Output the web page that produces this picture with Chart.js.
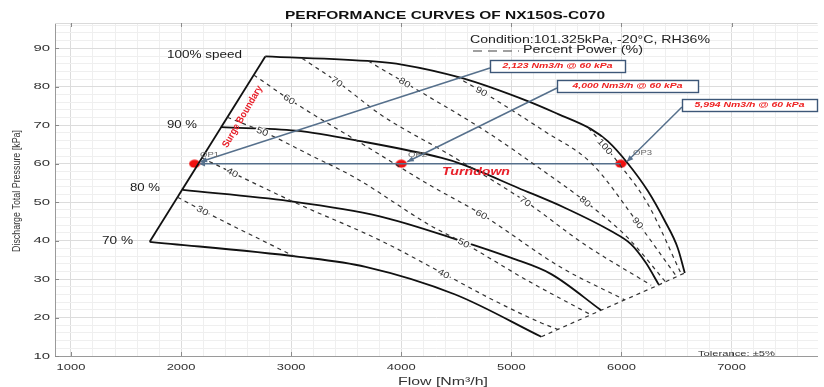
<!DOCTYPE html>
<html>
<head>
<meta charset="utf-8">
<script src="https://cdn.jsdelivr.net/npm/chart.js@4.4.1/dist/chart.umd.min.js"></script>
<style>
  html, body { margin: 0; padding: 0; background: #ffffff; }
  #wrap { width: 824px; height: 387px; }
</style>
</head>
<body>
<div id="wrap"><canvas id="perf" width="824" height="387"></canvas></div>
<script>
// ---- Compressor map data: [flow Nm3/h, discharge pressure kPa] ----
const speed100 = [[2765,87.9],[3751,86.6],[4005,85.8],[4548,82.3],[5154,76.2],[5425,72.9],[5724,69.0],[5878,65.8],[6060,60.0],[6240,52.9],[6394,45.1],[6511,38.1],[6575,31.6]];
const speed90  = [[2364,69.5],[3043,68.6],[3643,65.8],[4367,61.5],[4548,59.9],[5063,53.7],[5489,48.5],[5905,42.5],[6086,39.1],[6220,34.3],[6340,28.5]];
const speed80  = [[2016,53.2],[2982,50.3],[3796,46.4],[4548,39.9],[5000,35.5],[5362,31.3],[5815,21.9]];
const speed70  = [[1715,39.7],[3072,35.8],[3676,33.2],[4490,26.0],[5272,15.0]];
const surgeLine = [[1715,39.7],[2765,87.9]];
const chokeLine = [[5272,15.0],[5815,21.9],[6340,28.5],[6575,31.6]];

// percent power contours
const power30  = [[1968,51.3],[2197,47.8],[3030,35.9]];
const power40  = [[2190,61.5],[3043,49.8],[3800,40.2],[4385,31.4],[4852,24.3],[5272,18.6],[5425,16.9]];
const power50  = [[2420,72.1],[2771,68.0],[3163,62.4],[3585,56.3],[4249,44.2],[4566,39.4],[5154,29.5],[5724,20.7]];
const power60  = [[2660,83.1],[3012,76.2],[3706,64.1],[4249,54.6],[4731,46.8],[5453,33.0],[6029,24.6]];
const power70  = [[3100,87.4],[3434,81.0],[3827,72.5],[4430,62.5],[5123,50.3],[5666,39.0],[6270,28.4]];
const power80  = [[3700,86.7],[4038,81.0],[4792,68.0],[5272,58.5],[5666,50.3],[6059,40.7],[6400,29.3]];
const power90  = [[4500,82.6],[4731,78.8],[5303,68.4],[5724,60.2],[6149,44.6],[6500,30.7]];
const power100 = [[5700,69.3],[5851,64.5],[6000,59.2],[6240,49.5],[6545,31.2]];
const powerLevels = [30,40,50,60,70,80,90,100];
const powerLabelFlows = [[2195],[2466,4385],[2738,4566],[2982,4729],[3416,5127],[4032,5670],[4729,6149],[5851]];

// operating points along the turndown line
const opNames = ['OP1','OP2','OP3'];
const opFlows = [2123, 4000, 5994];
const opPressure = 60;

// axis ticks
const xTicks = [1000,2000,3000,4000,5000,6000,7000];
const yTicks = [10,20,30,40,50,60,70,80,90];
const xMinorStep = 200;
const yMinorStep = 2;

const X_MIN = 855, X_MAX = 7785, Y_MIN = 10, Y_MAX = 96.6;

const pts = arr => arr.map(([x, y]) => ({x, y}));
const powerSets = [power30, power40, power50, power60, power70, power80, power90, power100];
const SANS = '"Liberation Sans", Arial, sans-serif';

// red elliptical marker for operating points
const dot = document.createElement('canvas');
dot.width = 12; dot.height = 9;
(function () {
  const g = dot.getContext('2d');
  g.fillStyle = '#f01010';
  g.beginPath();
  g.ellipse(6, 4.5, 5.6, 4, 0, 0, Math.PI * 2);
  g.fill();
})();

const dashedStyle = {showLine: true, pointRadius: 0, borderColor: '#333333', borderWidth: 1.2, borderDash: [4, 4], cubicInterpolationMode: 'monotone', fill: false};
const solidStyle = {showLine: true, pointRadius: 0, borderColor: '#111111', borderWidth: 1.8, cubicInterpolationMode: 'monotone', fill: false};
const blueLine = '#56708c';

const datasets = [];
powerSets.forEach((s, i) => datasets.push(Object.assign({label: powerLevels[i] + '%', data: pts(s)}, dashedStyle)));
datasets.push(Object.assign({label: 'choke', data: pts(chokeLine)}, dashedStyle, {cubicInterpolationMode: 'default', tension: 0}));
[speed100, speed90, speed80, speed70].forEach((s, i) => datasets.push(Object.assign({label: ['100%','90%','80%','70%'][i] + ' speed', data: pts(s)}, solidStyle)));
datasets.push(Object.assign({label: 'surge', data: pts(surgeLine)}, solidStyle, {cubicInterpolationMode: 'default', tension: 0}));
datasets.push({label: 'turndown', data: [{x: opFlows[2], y: opPressure}, {x: opFlows[0] + 70, y: opPressure}], showLine: true, pointRadius: 0, borderColor: blueLine, borderWidth: 1.6, tension: 0});
datasets.push({label: 'points', data: opFlows.map(f => ({x: f, y: opPressure})), showLine: false, pointStyle: dot, pointRadius: 5});

function interpPx(chart, arr, flow) {
  const xs = chart.scales.x, ys = chart.scales.y;
  for (let i = 0; i < arr.length - 1; i++) {
    const [x0, y0] = arr[i], [x1, y1] = arr[i + 1];
    if (flow >= x0 && flow <= x1) {
      const t = (flow - x0) / (x1 - x0);
      const px0 = xs.getPixelForValue(x0), py0 = ys.getPixelForValue(y0);
      const px1 = xs.getPixelForValue(x1), py1 = ys.getPixelForValue(y1);
      return {x: px0 + t * (px1 - px0), y: py0 + t * (py1 - py0), a: Math.atan2(py1 - py0, px1 - px0)};
    }
  }
  return null;
}

// draw text stretched horizontally to a given width; align: 'left' | 'center' | 'right'
function wideText(ctx, text, x, y, width, align) {
  const w = ctx.measureText(text).width;
  const k = width / w;
  ctx.save();
  ctx.textAlign = 'left';
  ctx.textBaseline = 'middle';
  const x0 = align === 'center' ? x - width / 2 : align === 'right' ? x - width : x;
  ctx.translate(x0, y);
  ctx.scale(k, 1);
  ctx.fillText(text, 0, 0);
  ctx.restore();
}

function arrow(ctx, tx, ty, fx, fy, color) {
  const a = Math.atan2(ty - fy, tx - fx);
  ctx.save();
  ctx.fillStyle = color;
  ctx.beginPath();
  ctx.moveTo(tx, ty);
  ctx.lineTo(tx - 7 * Math.cos(a - 0.4), ty - 7 * Math.sin(a - 0.4));
  ctx.lineTo(tx - 7 * Math.cos(a + 0.4), ty - 7 * Math.sin(a + 0.4));
  ctx.closePath();
  ctx.fill();
  ctx.restore();
}

const decorations = {
  id: 'decorations',
  beforeDatasetsDraw(chart) {
    const {ctx, chartArea: a} = chart;
    const xs = chart.scales.x, ys = chart.scales.y;
    ctx.save();
    // axis lines and inward tick marks
    ctx.strokeStyle = '#9a9a9a';
    ctx.lineWidth = 1;
    ctx.beginPath();
    ctx.moveTo(a.left + 0.5, a.top); ctx.lineTo(a.left + 0.5, a.bottom + 0.5); ctx.lineTo(a.right, a.bottom + 0.5);
    ctx.stroke();
    ctx.strokeStyle = '#dadada';
    ctx.beginPath();
    ctx.moveTo(a.left, a.top + 0.5); ctx.lineTo(a.right - 0.5, a.top + 0.5);
    ctx.stroke();
    ctx.strokeStyle = '#8a8a8a';
    ctx.beginPath();
    xTicks.forEach(v => {
      const px = Math.round(xs.getPixelForValue(v)) + 0.5;
      ctx.moveTo(px, a.bottom); ctx.lineTo(px, a.bottom - 4);
      ctx.moveTo(px, a.top); ctx.lineTo(px, a.top + 4);
    });
    yTicks.forEach(v => {
      const py = Math.round(ys.getPixelForValue(v)) + 0.5;
      ctx.moveTo(a.left, py); ctx.lineTo(a.left + 4, py);
    });
    ctx.stroke();

    // tick labels placed by the scales
    ctx.fillStyle = '#333';
    ctx.font = '9px ' + SANS;
    xTicks.forEach(v => wideText(ctx, String(v), xs.getPixelForValue(v), 367.5, 7.2 * String(v).length, 'center'));
    ctx.font = '9.5px ' + SANS;
    yTicks.forEach(v => wideText(ctx, String(v), a.left - 5, ys.getPixelForValue(v), 8.3 * String(v).length, 'right'));

    // axis titles
    ctx.font = '11px ' + SANS;
    wideText(ctx, 'Flow [Nm³/h]', 443, 381.5, 90, 'center');
    ctx.save();
    ctx.translate(17.5, 191);
    ctx.rotate(-Math.PI / 2);
    ctx.scale(1, 1.15);
    ctx.font = '9px ' + SANS;
    wideText(ctx, 'Discharge Total Pressure [kPa]', 0, 0, 122, 'center');
    ctx.restore();
    ctx.restore();
  },
  afterDatasetsDraw(chart) {
    const {ctx} = chart;
    const xs = chart.scales.x, ys = chart.scales.y;
    ctx.save();

    // percent-power contour labels
    ctx.font = '9px ' + SANS;
    ctx.textAlign = 'center';
    ctx.textBaseline = 'middle';
    powerSets.forEach((s, i) => {
      powerLabelFlows[i].forEach(f => {
        const p = interpPx(chart, s, f);
        if (!p) return;
        ctx.save();
        ctx.translate(p.x, p.y);
        ctx.rotate(p.a);
        ctx.fillStyle = 'rgba(255,255,255,0.95)';
        const w = ctx.measureText(String(powerLevels[i])).width;
        ctx.fillRect(-w / 2 - 2, -4, w + 4, 8);
        ctx.fillStyle = '#333';
        ctx.scale(1.2, 1);
        ctx.fillText(String(powerLevels[i]), 0, 0.5);
        ctx.restore();
      });
    });

    // speed labels
    ctx.fillStyle = '#1a1a1a';
    ctx.font = '10px ' + SANS;
    wideText(ctx, '100% speed', 167, 55, 75, 'left');
    wideText(ctx, '90 %', 167, 125, 30, 'left');
    wideText(ctx, '80 %', 130, 188, 30, 'left');
    wideText(ctx, '70 %', 102, 241.7, 31, 'left');

    // surge boundary label
    ctx.save();
    ctx.translate(242.5, 116.7);
    ctx.rotate(-Math.atan2(60, 35));
    ctx.fillStyle = '#e8202a';
    ctx.font = 'bold 10px ' + SANS;
    wideText(ctx, 'Surge Boundary', 0, 0, 70, 'center');
    ctx.restore();

    // turndown label
    ctx.fillStyle = '#e8202a';
    ctx.font = 'italic bold 11px ' + SANS;
    wideText(ctx, 'Turndown', 442, 172, 68, 'left');

    // operating point callouts
    const boxes = [{x: 490, y: 60, w: 135, h: 12}, {x: 557, y: 80, w: 141, h: 12}, {x: 682, y: 99, w: 135, h: 12}];
    const opLabelPos = [[200, 155.5], [408, 155], [633, 153.5]];
    opFlows.forEach((f, i) => {
      const px = xs.getPixelForValue(f), py = ys.getPixelForValue(opPressure);
      const b = boxes[i];
      const sx = b.x, sy = b.y + 8;
      const tx = px + 6, ty = py - 2;
      ctx.strokeStyle = blueLine;
      ctx.lineWidth = 1.5;
      ctx.beginPath(); ctx.moveTo(sx, sy); ctx.lineTo(tx, ty); ctx.stroke();
      arrow(ctx, tx, ty, sx, sy, blueLine);
      ctx.fillStyle = '#ffffff';
      ctx.fillRect(b.x, b.y, b.w, b.h);
      ctx.strokeStyle = '#3d5778';
      ctx.lineWidth = 1.4;
      ctx.strokeRect(b.x + 0.5, b.y + 0.5, b.w, b.h);
      ctx.fillStyle = '#ee2222';
      ctx.font = 'italic bold 7px ' + SANS;
      wideText(ctx, f.toLocaleString('en-US') + ' Nm3/h @ ' + opPressure + ' kPa', b.x + b.w / 2, b.y + b.h / 2 + 0.5, 110, 'center');
      ctx.fillStyle = '#666';
      ctx.font = '7px ' + SANS;
      wideText(ctx, opNames[i], opLabelPos[i][0], opLabelPos[i][1], 19, 'left');
    });
    // arrow head at the end of the turndown line
    arrow(ctx, xs.getPixelForValue(opFlows[0]) + 4, ys.getPixelForValue(opPressure), xs.getPixelForValue(opFlows[2]), ys.getPixelForValue(opPressure), blueLine);

    // title, condition, legend, tolerance
    ctx.fillStyle = '#111';
    ctx.font = 'bold 11px ' + SANS;
    wideText(ctx, 'PERFORMANCE CURVES OF NX150S-C070', 285, 15.5, 320, 'left');
    ctx.font = '11px ' + SANS;
    ctx.fillStyle = '#222';
    wideText(ctx, 'Condition:101.325kPa, -20°C, RH36%', 470, 39.5, 240, 'left');
    ctx.strokeStyle = '#808080';
    ctx.lineWidth = 1.3;
    ctx.setLineDash([9, 6]);
    ctx.beginPath(); ctx.moveTo(473, 51); ctx.lineTo(519, 51); ctx.stroke();
    ctx.setLineDash([]);
    wideText(ctx, 'Percent Power (%)', 523, 50, 120, 'left');
    ctx.font = '8px ' + SANS;
    ctx.fillStyle = '#333';
    wideText(ctx, 'Tolerance: ±5%', 698, 353.3, 77, 'left');

    ctx.restore();
  }
};

const gridValues = (min, max, step) => { const v = []; for (let t = min; t <= max + 1e-9; t += step) v.push(+t.toFixed(4)); return v; };

new Chart(document.getElementById('perf'), {
  type: 'scatter',
  data: {datasets},
  options: {
    responsive: false,
    animation: false,
    devicePixelRatio: 1,
    layout: {padding: {top: 23, right: 2, left: 0, bottom: 0}},
    plugins: {legend: {display: false}, tooltip: {enabled: false}},
    scales: {
      x: {
        type: 'linear', min: X_MIN, max: X_MAX,
        afterBuildTicks: s => { s.ticks = gridValues(1000, 7600, xMinorStep).map(v => ({value: v})); },
        afterFit: s => { s.height = 31; },
        border: {display: false},
        grid: {drawTicks: false, color: c => (c.tick && c.tick.value % 1000 === 0) ? '#dcdcdc' : '#efefef', lineWidth: 1},
        ticks: {display: false}
      },
      y: {
        type: 'linear', min: Y_MIN, max: Y_MAX,
        afterBuildTicks: s => { s.ticks = gridValues(10, 96, yMinorStep).map(v => ({value: v})); },
        afterFit: s => { s.width = 55; },
        border: {display: false},
        grid: {drawTicks: false, color: c => (c.tick && c.tick.value % 10 === 0) ? '#dcdcdc' : '#efefef', lineWidth: 1},
        ticks: {display: false}
      }
    }
  },
  plugins: [decorations]
});
</script>
</body>
</html>
